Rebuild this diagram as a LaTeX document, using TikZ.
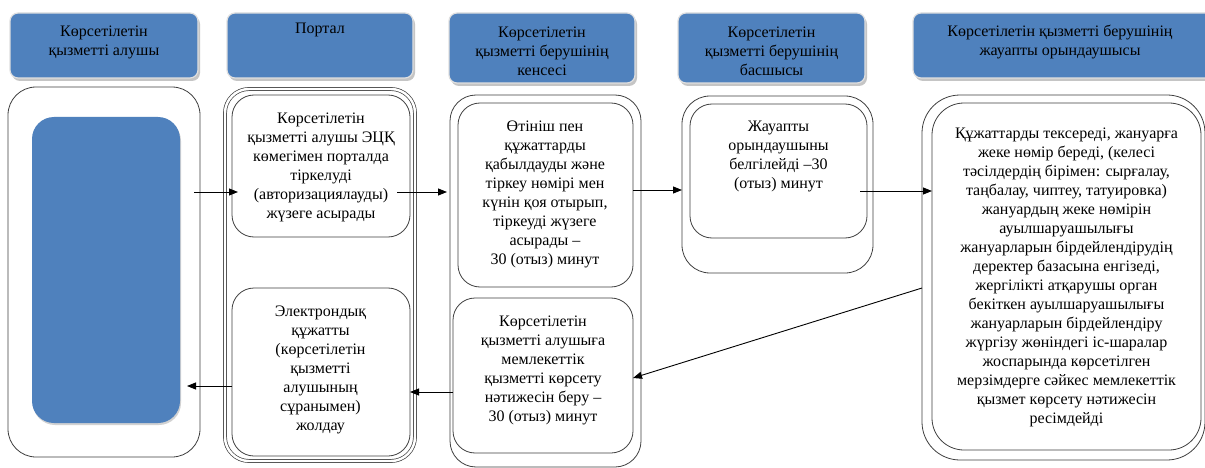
\documentclass[tikz,border=0pt]{standalone}
\usepackage{fontspec}
\setmainfont{LiberationSerif}[Extension=.ttf, UprightFont=*-Regular, BoldFont=*-Bold, ItalicFont=*-Italic, BoldItalicFont=*-BoldItalic]
\usetikzlibrary{arrows.meta,shadows,calc}
\definecolor{hblue}{HTML}{4F81BD}
\begin{document}
\begin{tikzpicture}[x=1pt,y=-1pt,
  hdr/.style={fill=hblue, draw=black!12, line width=1.2pt, rounded corners=8pt, inner sep=0pt, outer sep=0pt,
    drop shadow={shadow xshift=2pt, shadow yshift=-3pt, fill=black!45}},
  frame/.style={draw=black!75, line width=0.8pt, inner sep=0pt, outer sep=0pt},
  txt/.style={align=center, inner sep=0pt, font=\rmfamily\fontsize{16}{19}\selectfont, text=black},
  arr/.style={draw=black, line width=0.9pt, -{Triangle[length=9pt,width=7pt]}},
]
\useasboundingbox (0,0) rectangle (1205,468);
\fill[white] (0,0) rectangle (1205,468);

% headers
\node[hdr, minimum width=188pt, minimum height=65pt] (h1) at (104,45.5) {};
\node[hdr, minimum width=186pt, minimum height=65pt] (h2) at (320,45.5) {};
\node[hdr, minimum width=186pt, minimum height=70pt] (h3) at (542,48) {};
\node[hdr, minimum width=187pt, minimum height=70pt] (h4) at (771.5,48) {};
\node[hdr, minimum width=302pt, minimum height=65pt] (h5) at (1064,45.5) {};

\node[txt] (h1t) at (104,42) {Көрсетілетін\\қызметті алушы};
\node[txt] (h2t) at (320,30) {Портал};
\node[txt] (h3t) at (542,51) {Көрсетілетін\\қызметті берушінің\\кенсесі};
\node[txt] (h4t) at (771.5,51) {Көрсетілетін\\қызметті берушінің\\басшысы};
\node[txt] (h5t) at (1060,42) {Көрсетілетін қызметті берушінің\\жауапты орындаушысы};

% column 1
\node[frame, rounded corners=28pt, minimum width=192pt, minimum height=370pt] (o1) at (104,272) {};
\node[fill=hblue, rounded corners=22pt, inner sep=0pt, outer sep=0pt, minimum width=148pt, minimum height=306pt,
  drop shadow={shadow xshift=1pt, shadow yshift=-2pt, fill=black!35}] (blue) at (106,270) {};

% column 2
\node[frame, double=white, double distance=2.4pt, line width=0.7pt, rounded corners=24pt, minimum width=190pt, minimum height=372pt] (o2) at (320,275) {};
\node[frame, rounded corners=22pt, minimum width=178pt, minimum height=142pt] (b2a) at (321,166) {};
\node[frame, rounded corners=22pt, minimum width=178pt, minimum height=168pt] (b2b) at (321,372) {};
\node[txt] (b2at) at (321,167.5) {Көрсетілетін\\қызметті алушы ЭЦҚ\\көмегімен порталда\\тіркелуді\\(авторизациялауды)\\жүзеге асырады};
\node[txt] (b2bt) at (320.5,370) {Электрондық\\құжатты\\(көрсетілетін\\қызметті\\алушының\\сұранымен)\\жолдау};

% column 3
\node[frame, rounded corners=26pt, minimum width=191pt, minimum height=372pt] (o3) at (545.5,281) {};
\node[frame, rounded corners=22pt, minimum width=175pt, minimum height=184pt] (b3a) at (545.5,195) {};
\node[frame, rounded corners=22pt, minimum width=180pt, minimum height=155pt] (b3b) at (543,375.5) {};
\node[txt] (b3at) at (545,194.5) {Өтініш пен\\құжаттарды\\қабылдауды және\\тіркеу нөмірі мен\\күнін қоя отырып,\\тіркеуді жүзеге\\асырады –\\30 (отыз) минут};
\node[txt] (b3bt) at (543,370.5) {Көрсетілетін\\қызметті алушыға\\мемлекеттік\\қызметті көрсету\\нәтижесін беру –\\30 (отыз) минут};

% column 4
\node[frame, rounded corners=28pt, minimum width=191pt, minimum height=177pt] (o4) at (777.5,184.5) {};
\node[frame, rounded corners=22pt, minimum width=177pt, minimum height=134pt] (b4) at (778.5,171) {};
\node[txt] (b4t) at (778.5,156) {Жауапты\\орындаушыны\\белгілейді –30\\(отыз) минут};

% column 5
\node[frame, rounded corners=38pt, minimum width=283pt, minimum height=365pt] (o5) at (1063.5,277.5) {};
\node[frame, rounded corners=32pt, minimum width=269pt, minimum height=347pt] (b5) at (1066.5,276.5) {};
\node[txt] (b5t) at (1066.5,277.5) {Құжаттарды тексереді, жануарға\\жеке нөмір береді, (келесі\\тәсілдердің бірімен: сырғалау,\\таңбалау, чиптеу, татуировка)\\жануардың жеке нөмірін\\ауылшаруашылығы\\жануарларын бірдейлендірудің\\деректер базасына енгізеді,\\жергілікті атқарушы орган\\бекіткен ауылшаруашылығы\\жануарларын бірдейлендіру\\жүргізу жөніндегі іс-шаралар\\жоспарында көрсетілген\\мерзімдерге сәйкес мемлекеттік\\қызмет көрсету нәтижесін\\ресімдейді};

% connectors
\coordinate (p1) at (194,192);
\draw[arr] (p1) -- ($(p1 -| b2a.west)+(6,0)$);
\coordinate (p2) at (397,192);
\draw[arr] (p2) -- ($(p2 -| o3.west)+(-3,0)$);
\coordinate (p3) at (0,190);
\draw[arr] (p3 -| b3a.east) -- (p3 -| o4.west);
\coordinate (p4) at (860,191);
\draw[arr] (p4) -- (p4 -| b5.west);
\coordinate (p5) at (0,288);
\coordinate (q5) at (0,378);
\draw[arr] (p5 -| o5.west) -- (q5 -| b3b.east);
\coordinate (p6) at (0,392);
\draw[arr] (p6 -| b3b.west) -- (p6 -| b2b.east);
\coordinate (p7) at (0,386);
\draw[arr] (p7 -| b2b.west) -- ($(p7 -| blue.east)+(7,0)$);
\end{tikzpicture}
\end{document}
